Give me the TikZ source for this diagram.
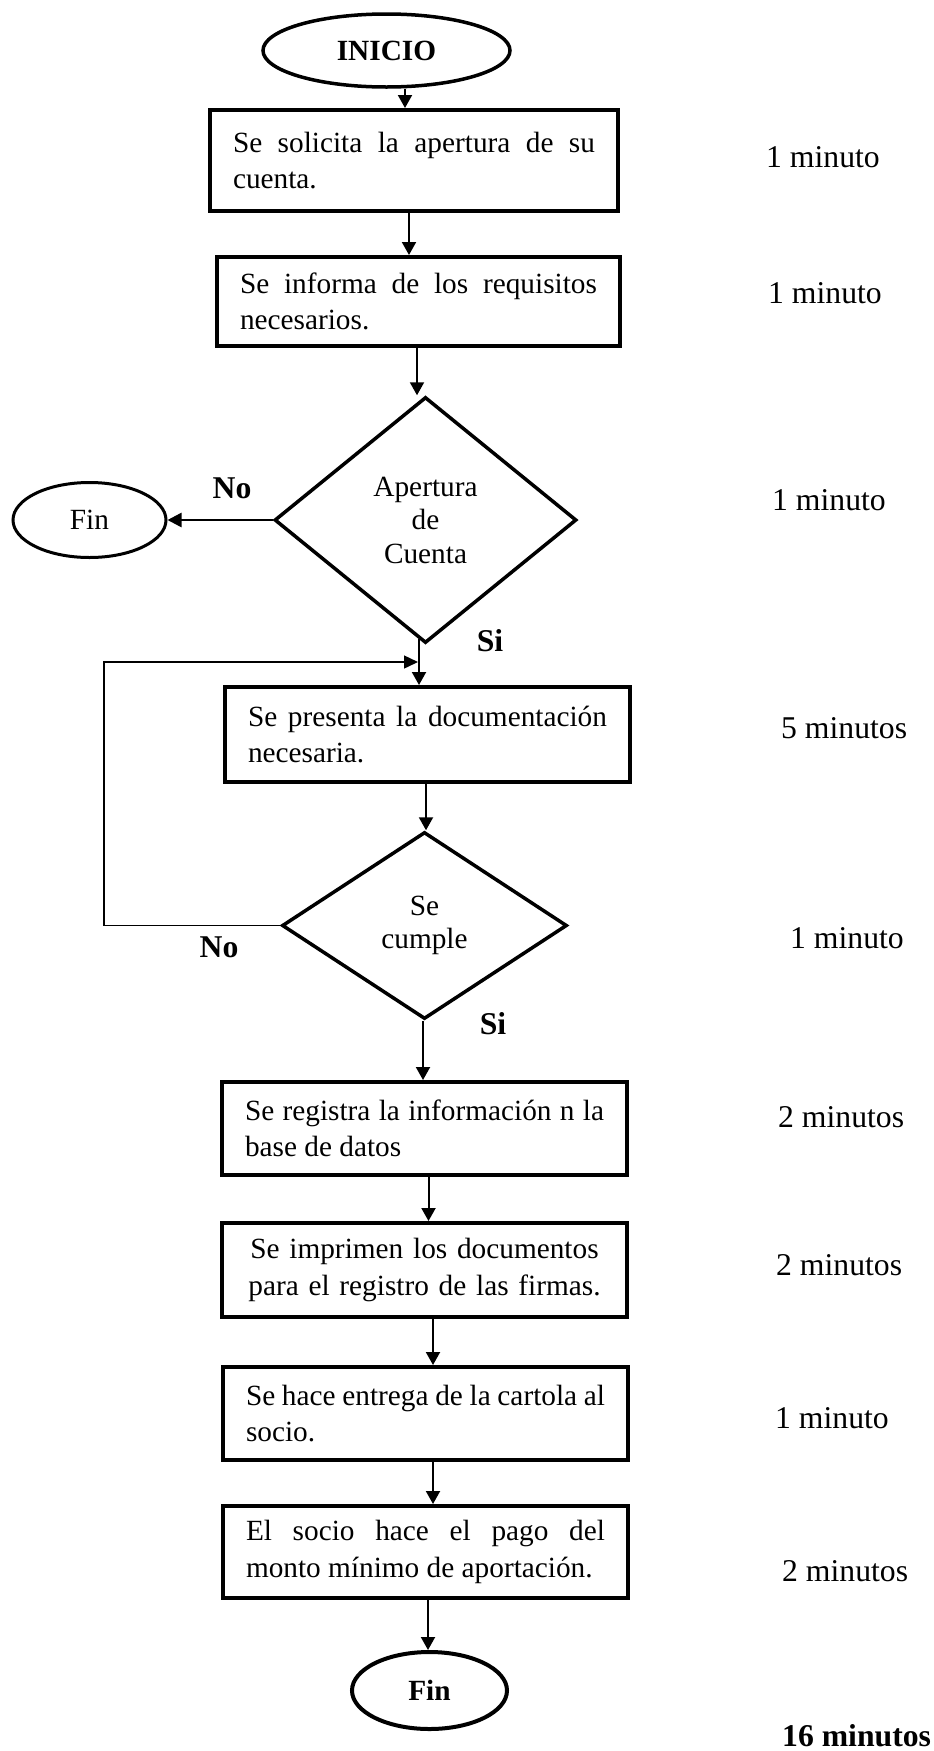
\documentclass[tikz,border=0pt]{standalone}
\usepackage{fontspec}
\setmainfont{Liberation Serif}
\usetikzlibrary{shapes.geometric,arrows.meta}

\begin{document}
\begin{tikzpicture}[x=1pt,y=-1pt,
  boxfont/.style={font=\fontsize{29.3}{36.5}\selectfont},
  stepbox/.style={boxfont,draw,line width=4pt,inner xsep=23pt,inner ysep=0pt,align=justify},
  decision/.style={draw,diamond,line width=3.5pt,inner sep=0pt,align=center,
    font=\fontsize{29.3}{33.5}\selectfont},
  term/.style={draw,ellipse,inner sep=0pt,font=\fontsize{29.3}{35}\selectfont},
  timelbl/.style={anchor=base west,inner sep=0pt,font=\fontsize{31.7}{38}\selectfont},
  branch/.style={anchor=base,inner sep=0pt,font=\fontsize{31.7}{38}\selectfont\bfseries},
  arr/.style={line width=2pt,-{Triangle[length=13pt,width=14pt]}},
  looparr/.style={line width=1.4pt,-{Triangle[length=14pt,width=13pt]}}
]
\useasboundingbox (0,0) rectangle (934,1751);

% start and end terminals
\node[term,line width=3.5pt,minimum width=247pt,minimum height=73pt,font=\fontsize{29.3}{35}\selectfont\bfseries]
  (inicio) at (386.5,50.5) {INICIO};
\node[term,line width=3pt,minimum width=153pt,minimum height=75pt]
  (fin1) at (89.5,520) {Fin};
\node[term,line width=4pt,minimum width=155pt,minimum height=77pt,font=\fontsize{29.3}{35}\selectfont\bfseries]
  (fin2) at (429.5,1690.5) {Fin};

% process steps
\node[stepbox,text width=362pt,minimum height=101pt] (box1) at (414,160.5)
  {Se solicita la apertura de su\linebreak cuenta.};
\node[stepbox,text width=357pt,minimum height=89pt] (box2) at (418.5,301.5)
  {Se informa de los requisitos\linebreak necesarios.};
\node[stepbox,text width=359pt,minimum height=95pt] (box3) at (427.5,734.5)
  {Se presenta la documentación\linebreak necesaria.};
\node[stepbox,text width=359pt,minimum height=93pt] (box4) at (424.5,1128.5)
  {Se registra la información n la\linebreak base de datos};
\node[stepbox,text width=359pt,minimum height=94pt,align=center] (box5) at (424.5,1270)
  {Se imprimen los documentos\\para el registro de las firmas.};
\node[stepbox,text width=359pt,minimum height=93pt] (box6) at (425.5,1413.5)
  {Se hace entrega de la cartola al\linebreak socio.};
\node[stepbox,text width=359pt,minimum height=92pt] (box7) at (425.5,1552)
  {El socio hace el pago del\linebreak monto mínimo de aportación.};

% decisions
\node[decision,minimum width=302pt,minimum height=246pt] (d1) at (425.5,520)
  {Apertura\\de\\Cuenta};
\node[decision,minimum width=285pt,minimum height=187pt] (d2) at (424.5,925.5)
  {Se\\cumple};

% branch labels
\node[branch] (no1) at (232,498) {No};
\node[branch] (si1) at (490,651) {Si};
\node[branch] (no2) at (219,957) {No};
\node[branch] (si2) at (493,1034) {Si};

% durations
\node[timelbl] (t1) at (766,167) {1 minuto};
\node[timelbl] (t2) at (768,303) {1 minuto};
\node[timelbl] (t3) at (772,510) {1 minuto};
\node[timelbl] (t4) at (781,738) {5 minutos};
\node[timelbl] (t5) at (790,948) {1 minuto};
\node[timelbl] (t6) at (778,1127) {2 minutos};
\node[timelbl] (t7) at (776,1275) {2 minutos};
\node[timelbl] (t8) at (775,1428) {1 minuto};
\node[timelbl] (t9) at (782,1581) {2 minutos};
\node[timelbl,font=\fontsize{31.7}{38}\selectfont\bfseries] (total) at (782,1746) {16 minutos};

% flow
\draw[arr] ([xshift=18.5pt]inicio.south) -- ([xshift=-9pt]box1.north);
\draw[arr] ([xshift=-5pt]box1.south) -- ([xshift=-9.5pt]box2.north);
\draw[arr] ([xshift=-1.5pt]box2.south) -- ([xshift=-8.5pt]d1.north);
\draw[line width=2.5pt,-{Triangle[length=14pt,width=14pt]}] (d1.west) -- (fin1.east);
\draw[arr] ([xshift=-6.5pt,yshift=6pt]d1.south) -- ([xshift=-8.5pt]box3.north);
\draw[arr] ([xshift=-1.5pt]box3.south) -- ([xshift=1.5pt]d2.north);
\draw[arr] ([xshift=-1.5pt]d2.south) -- ([xshift=-1.5pt]box4.north);
\draw[arr] ([xshift=4pt]box4.south) -- ([xshift=4pt]box5.north);
\draw[arr] ([xshift=8.5pt]box5.south) -- ([xshift=7.5pt]box6.north);
\draw[arr] ([xshift=7.5pt]box6.south) -- ([xshift=7.5pt]box7.north);
\draw[arr] ([xshift=2.5pt]box7.south) -- ([xshift=-1.5pt]fin2.north);

% return path when the documentation is incomplete
\coordinate (lp) at (104,662);
\coordinate (j1) at (418,662);
\draw[looparr] (d2.west) -| (lp) -- (j1);
\end{tikzpicture}
\end{document}
